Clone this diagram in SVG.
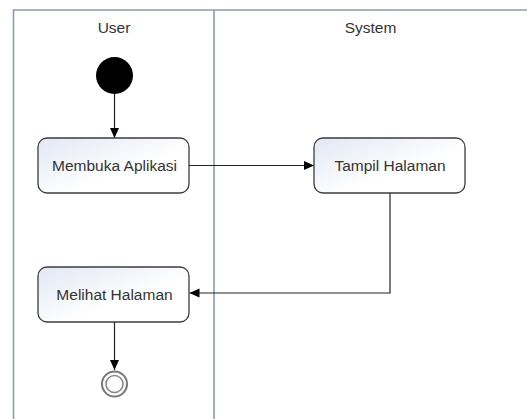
<svg xmlns="http://www.w3.org/2000/svg" width="527" height="419" viewBox="0 0 527 419">
  <style>
    .lane { fill: none; stroke: #8d9cab; stroke-width: 1.6; }
    .act { fill: url(#actFill); stroke: #3c3c3c; stroke-width: 1.3; }
    .label { font-family: "Liberation Sans", Arial, sans-serif; font-size: 15.5px; fill: #333; text-anchor: middle; }
    .flow { fill: none; stroke: #222; stroke-width: 1.2; marker-end: url(#arrow); }
  </style>
  <defs>
    <linearGradient id="actFill" x1="0" y1="0" x2="1" y2="1">
      <stop offset="0" stop-color="#e2e7f3"/>
      <stop offset="0.6" stop-color="#ffffff"/>
    </linearGradient>
    <marker id="arrow" viewBox="0 0 10 10" refX="10" refY="5" markerWidth="10" markerHeight="10" markerUnits="userSpaceOnUse" orient="auto">
      <path d="M0,0.5 L10,5 L0,9.5 Z" fill="#000"/>
    </marker>
  </defs>
  <rect width="527" height="419" fill="#ffffff"/>

  <!-- swimlanes -->
  <g id="lanes">
    <path class="lane" d="M13.5,419 V10 H527"/>
    <path class="lane" d="M214,10 V419"/>
    <text class="label" x="114" y="33">User</text>
    <text class="label" x="370.5" y="33">System</text>
  </g>

  <!-- connectors -->
  <g id="connectors">
    <path class="flow" d="M114.5,94 V138"/>
    <path class="flow" d="M189,165.5 H314"/>
    <path class="flow" d="M390,193 V293 H189.5"/>
    <path class="flow" d="M114.5,322 V370"/>
  </g>

  <g id="start">
    <circle cx="114.5" cy="75.5" r="18.5" fill="#000"/>
  </g>

  <g id="membuka-aplikasi">
    <rect class="act" x="38" y="138" width="151" height="55" rx="9"/>
    <text class="label" x="114.5" y="171">Membuka Aplikasi</text>
  </g>

  <g id="tampil-halaman">
    <rect class="act" x="314" y="138" width="151" height="55" rx="9"/>
    <text class="label" x="390" y="171">Tampil Halaman</text>
  </g>

  <g id="melihat-halaman">
    <rect class="act" x="38" y="267" width="151" height="55" rx="9"/>
    <text class="label" x="114.5" y="300">Melihat Halaman</text>
  </g>

  <g id="end">
    <circle cx="114.5" cy="384" r="12.5" fill="#fff" stroke="#777" stroke-width="2"/>
    <circle cx="114.5" cy="384" r="8.5" fill="#fff" stroke="#888" stroke-width="1.6"/>
  </g>
</svg>
